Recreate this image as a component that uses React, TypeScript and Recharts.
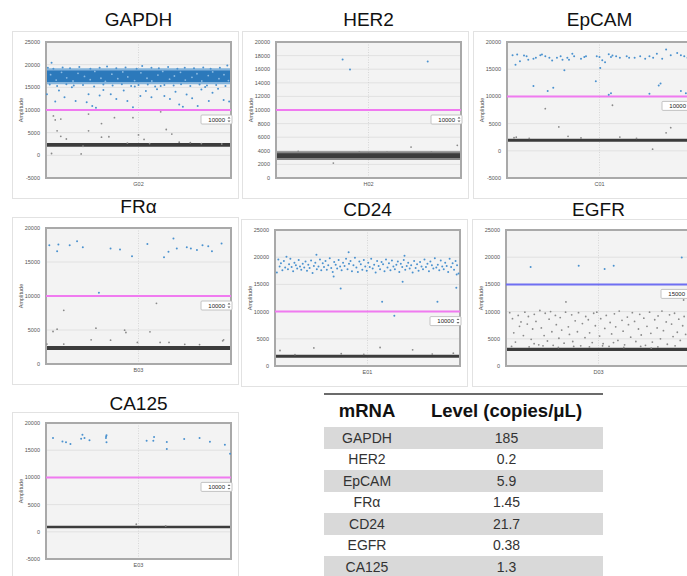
import React from 'react';
import { ScatterChart, Scatter, XAxis, YAxis, CartesianGrid, ReferenceLine, ReferenceArea } from 'recharts';

type Pt = [number, number];

// ---------- tick labels ----------
const ticksM5to25 = [-5000, 0, 5000, 10000, 15000, 20000, 25000];
const ticks0to20by2k = [0, 2000, 4000, 6000, 8000, 10000, 12000, 14000, 16000, 18000, 20000];
const ticksM5to20 = [-5000, 0, 5000, 10000, 15000, 20000];
const ticks0to20 = [0, 5000, 10000, 15000, 20000];
const ticks0to25 = [0, 5000, 10000, 15000, 20000, 25000];

// ---------- wells / titles ----------
const titles = ['GAPDH', 'HER2', 'EpCAM', 'FRα', 'CD24', 'EGFR', 'CA125'];
const wells = ['G02', 'H02', 'C01', 'B03', 'E01', 'D03', 'E03'];
const thresholds = [10000, 10000, 10000, 10000, 10000, 15000, 10000];

// ---------- negative droplet clusters (amplitude range) ----------
const negBands: [number, number][] = [
  [1900, 2700], [2950, 3650], [1650, 2200], [2050, 2650], [1500, 2050], [2750, 3350], [650, 1100],
];
const her2NegHalo: [number, number] = [2650, 3950];

// ---------- GAPDH dense positive cluster ----------
const gapdhPosCore: [number, number] = [16200, 18700];
const gapdhPosHalo: [number, number] = [15700, 19200];

// ---------- droplets: [position across well %, amplitude] ----------
const gapdhBlue: Pt[] = [
  [3, 20400], [0.5, 13500], [5, 11900], [7, 14300], [10, 12800], [16, 12000], [22, 11700], [23, 13500], [25, 10900],
  [27, 10500], [29, 13200], [31, 14400], [35, 13500], [38, 12400], [42, 14300], [44, 12000], [47, 10600], [51, 13100],
  [54, 14200], [57, 12800], [60, 14600], [64, 13100], [67, 12400], [70, 14000], [72, 11200], [74, 10700], [76, 13400],
  [79, 12600], [82, 10900], [84, 14500], [88, 12000], [90, 13800], [93, 14700], [96, 12200], [99, 11900], [14, 15000],
  [48, 15200], [62, 15300], [86, 15100],
  [1, 19300], [4, 19100], [9, 19400], [13, 19200], [18, 19500], [24, 19100], [29, 19300], [33, 19600], [38, 19200],
  [43, 19400], [49, 19100], [52, 19700], [57, 19300], [61, 19200], [66, 19500], [71, 19100], [75, 19300], [80, 19200],
  [85, 19400], [89, 19100], [94, 19300], [98, 19800],
  [2, 15600], [6, 15300], [11, 15700], [15, 15400], [20, 15500], [26, 15200], [31, 15600], [36, 15400], [41, 15700],
  [46, 15300], [50, 15500], [55, 15600], [59, 15200], [64, 15500], [69, 15400], [73, 15700], [78, 15300], [83, 15600],
  [87, 15400], [92, 15500], [97, 15300],
];
// lighter specks visible inside the dense GAPDH cluster
const gapdhSpecks: Pt[] = [
  [2.5, 17800], [5.5, 16600], [8.4, 18300], [11.2, 17100], [14.6, 16400], [17.3, 18100], [20.8, 17400], [23.9, 16700],
  [26.4, 18500], [29.7, 17000], [32.1, 16300], [35.6, 17900], [38.8, 16900], [41.5, 18400], [44.2, 17300], [47.9, 16500],
  [51.3, 18200], [54.6, 17000], [57.2, 16400], [60.5, 17700], [63.1, 18500], [66.8, 16800], [69.4, 17500], [72.7, 18300],
  [75.3, 16600], [78.9, 17200], [81.6, 18000], [84.2, 16400], [87.7, 17600], [90.1, 18400], [93.5, 16900], [96.2, 17800],
  [98.6, 16500],
];
const gapdhGray: Pt[] = [
  [4, 8700], [5, 7800], [8, 8000], [6, 5400], [8, 4200], [11, 3600], [19, 300], [3, 400], [23, 5400], [23, 9100],
  [30, 7000], [30, 4000], [34, 4100], [37, 8300], [47, 8300], [50, 4500], [53, 3500], [62, 9600], [65, 5700],
  [68, 4700], [72, 2900], [78, 2800], [84, 2600], [95, 2500], [20, 2000], [56, 2600], [44, 2700],
];

const her2Blue: Pt[] = [[36, 17430], [40, 15950], [82, 17140]];
const her2Gray: Pt[] = [[31, 2200], [73, 4550], [98, 4800], [84, 3850], [12, 3900], [45, 3850], [60, 3800]];

const epcamBlue: Pt[] = [
  [3, 17550], [4.6, 15830], [5.5, 17700], [7, 16450], [9.2, 17500], [10.6, 17370], [11.5, 16750], [14.3, 16900],
  [15.6, 17100], [18, 17550], [18.9, 17700], [20.7, 17360], [22.9, 17100], [24.4, 16600], [27, 17100], [29, 17400],
  [30, 16750], [32.6, 17100], [33.5, 16750], [35.3, 17860], [36.3, 17360], [40, 16940], [41.8, 17240], [42.7, 17360],
  [48.5, 17360], [50, 17240], [51.5, 16630], [53, 16300], [55, 17730], [56.2, 17240], [57, 17500], [59, 17360],
  [61, 17100], [64.7, 17360], [66, 17100], [69, 17100], [72, 17360], [74.7, 16940], [77, 17360], [79, 17100],
  [81, 17860], [83.9, 16940], [86, 18600], [88.5, 17550], [92, 17980], [94, 17550], [95.8, 17360], [97.6, 17100],
  [99, 16750],
  [14.3, 11900], [22, 11000], [25, 11600], [31, 14800], [48, 12770], [50.4, 15200], [55, 10300], [56.2, 10600],
  [77, 10500], [82, 12000], [83, 12350], [94, 11000], [96.7, 10600],
];
const epcamGray: Pt[] = [
  [20.7, 7750], [28, 4380], [33, 2660], [57, 8370], [61, 2530], [78.7, 300], [86, 3300], [88.5, 4250], [3.8, 2400],
  [5, 2500], [12, 2300], [40, 2350], [70, 2300],
];

const fraBlue: Pt[] = [
  [1.8, 17460], [6, 16590], [6.7, 17560], [12.8, 17460], [16.8, 18050], [19.9, 17170], [34.9, 16980], [40, 16830],
  [46.5, 15850], [54.8, 17660], [63.8, 15710], [66.2, 16490], [68.9, 18440], [70.7, 16980], [76.1, 17170],
  [78.3, 16980], [81.6, 16780], [84.6, 17460], [87.7, 17320], [89.7, 16590], [94.9, 17710], [28.6, 10490],
];
const fraGray: Pt[] = [
  [9.6, 7900], [3.8, 4780], [6, 5120], [27, 5270], [24.4, 3560], [34.9, 3510], [42.5, 4970], [43.2, 4630],
  [49.4, 3170], [56.2, 4730], [59.7, 8930], [61.7, 3170], [66.5, 3170], [95.5, 3410], [96, 3560], [9.6, 2930],
  [0.5, 2930], [75, 2900], [83, 2850],
];

const cd24Blue: Pt[] = [
  [1, 17200], [1.8, 19600], [2.5, 18300], [3.2, 18900], [4, 17600], [4.8, 19300], [5.5, 18100], [6.2, 20100],
  [7, 17800], [7.6, 18700], [8.3, 19700], [9, 18200], [9.8, 17400], [10.5, 19000], [11.3, 18500], [12, 17900],
  [12.8, 19500], [13.5, 18300], [14.2, 17700], [15, 18800], [15.8, 18100], [16.5, 19200], [17.3, 17500], [18, 18600],
  [18.7, 18000], [19.5, 19400], [20.3, 17100], [21, 18400], [21.8, 19000], [22.6, 17800], [23.5, 18300], [24.3, 19600],
  [25, 17600], [25.8, 18900], [26.5, 18200], [27.3, 19300], [28, 17700], [28.8, 18500], [29.6, 19800], [30.4, 18000],
  [31.2, 17300], [32, 19100], [32.8, 18600], [33.6, 17900], [34.4, 19500], [35.2, 18300], [36, 17600], [36.8, 19000],
  [37.6, 18400], [38.4, 19700], [39.2, 17800], [40, 18800], [40.8, 19300], [41.6, 17400], [42.4, 18500], [43.2, 19900],
  [44, 18100], [44.8, 17300], [45.6, 19200], [46.4, 18700], [47.2, 17700], [48, 19500], [48.8, 18300], [49.6, 17500],
  [50.4, 19000], [51.2, 18200], [52, 19700], [52.8, 17900], [53.6, 18600], [54.4, 17200], [55.2, 19300], [56, 18400],
  [56.8, 17800], [57.6, 19100], [58.4, 18700], [59.2, 17400], [60, 19600], [60.8, 18100], [61.6, 18900], [62.4, 17600],
  [63.2, 19400], [64, 18300], [64.8, 17800], [65.6, 18600], [66.4, 19200], [67.2, 17300], [68, 18800], [68.8, 18200],
  [69.6, 19500], [70.4, 17700], [71.2, 18400], [72, 19000], [72.8, 17900], [73.6, 18500], [74.4, 17200], [75.2, 19300],
  [76, 18000], [76.8, 18700], [77.6, 17500], [78.4, 19100], [79.2, 18300], [80, 17800], [80.8, 19600], [81.6, 18200],
  [82.4, 18800], [83.2, 17400], [84, 19200], [84.8, 18500], [85.6, 17900], [86.4, 19800], [87.2, 18100], [88, 18600],
  [88.8, 17600], [89.6, 19400], [90.4, 18300], [91.2, 17800], [92, 19000], [92.8, 18400], [93.6, 17300], [94.4, 19700],
  [95.2, 18200], [96, 18900], [96.8, 17700], [97.6, 19300], [98.4, 18500], [99.2, 17000],
  [22.4, 20450], [39.8, 20930], [70, 20270], [31.7, 16440], [69, 15470], [35.5, 14260], [57.9, 11830], [87.8, 11830],
  [64.5, 9220], [98, 14380], [98.2, 16800],
];
const cd24Gray: Pt[] = [[2.7, 2850], [21, 3330], [56.8, 3400], [74.4, 2970], [96.4, 2360], [10.8, 2100], [35.8, 2250], [48, 2150], [85, 2200]];

const egfrBlue: Pt[] = [[13.3, 18200], [39.3, 18450], [53.3, 17840], [58.2, 18450], [95, 19960]];
const egfrGray: Pt[] = [
  [32.4, 11770], [96, 12130],
  [2, 9800], [3.5, 8700], [4.2, 6100], [5.1, 4400], [6.6, 9300], [7.3, 7300], [8.1, 8100], [9.4, 5600], [10.2, 9900],
  [11.5, 7700], [12.1, 9100], [13.6, 4900], [14.4, 6800], [15.3, 9500], [16.2, 8200], [17.7, 3900], [18.3, 10200],
  [19.1, 7000], [20.6, 5600], [21.2, 9700], [22.4, 4600], [23.3, 8600], [24.1, 10000], [24.8, 6300], [25.5, 3800],
  [26.7, 9300], [27.2, 7600], [28.6, 5100], [29.3, 8900], [30.1, 6600], [31.4, 4200], [32.2, 9900], [33.7, 7200],
  [34.3, 5800], [35.5, 9400], [36.1, 4500], [37.4, 8300], [38.6, 6300], [39.2, 9800], [40.4, 3700], [41.3, 7800],
  [42.7, 5200], [43.1, 9100], [44.5, 8500], [45.2, 6100], [46.6, 4300], [47.4, 9700], [48.3, 7400], [49.1, 9900],
  [50.6, 5500], [51.2, 8700], [52.5, 4100], [53.4, 6900], [54.2, 9300], [55.7, 3600], [56.3, 8000], [57.1, 5900],
  [58.6, 9600], [59.3, 7200], [60.5, 4700], [61.2, 10100], [62.7, 8400], [63.3, 6400], [64.1, 3900], [65.6, 9000],
  [66.2, 7600], [67.4, 5300], [68.3, 9800], [69.5, 8200], [70.2, 4500], [71.6, 6800], [72.3, 9500], [73.1, 5700],
  [74.5, 8800], [75.4, 3800], [76.2, 7300], [77.6, 9900], [78.3, 6000], [79.1, 4400], [80.4, 8500], [81.7, 7000],
  [82.2, 9200], [83.5, 5000], [84.3, 10100], [85.1, 6500], [86.6, 8100], [87.2, 4000], [88.4, 9400], [89.5, 7700],
  [90.3, 5400], [91.1, 9700], [92.6, 6200], [93.4, 8600], [94.2, 4700], [95.5, 7400], [96.3, 9100], [97.1, 5800],
  [98.5, 8300], [99.2, 4200],
  [3, 3600], [12.5, 3500], [20, 3700], [28.3, 3400], [36.6, 3600], [45.1, 3500], [52.2, 3700], [63.7, 3400],
  [72.8, 3600], [82.1, 3500], [91.4, 3700], [15.2, 4100], [58.1, 4300], [78.5, 3300],
];

const ca125Blue: Pt[] = [
  [3.8, 17240], [8.9, 16620], [10.8, 16440], [13.2, 16130], [19, 17110], [19.7, 17850], [20.8, 17240], [23.5, 16810],
  [32.5, 17540], [32.7, 17730], [32.4, 17240], [32.7, 16440], [54.4, 16740], [58, 16740], [58.4, 17420], [65.3, 16500],
  [65.3, 15210], [74.7, 17050], [83, 17240], [88.6, 16560], [96.7, 16010], [99.5, 14350],
];
const ca125Gray: Pt[] = [[48.8, 1390], [64.7, 1080]];

// ---------- table ----------
const tableGenes = ['GAPDH', 'HER2', 'EpCAM', 'FRα', 'CD24', 'EGFR', 'CA125'];
const tableLevels = ['185', '0.2', '5.9', '1.45', '21.7', '0.38', '1.3'];

// ---------- layout ----------
const FONT = '"Liberation Sans", Arial, sans-serif';
const W = 225;
const H = 166;
const PLOT_LEFT = 33;
const PLOT_W = 185;

type PanelCfg = {
  idx: number;
  left: number;
  top: number;
  titleY: number;
  ticks: number[];
  blue: Pt[];
  gray: Pt[];
  specks?: Pt[];
  thrColor: string;
  posCore?: [number, number];
  posHalo?: [number, number];
  negHalo?: [number, number];
};

const panels: PanelCfg[] = [
  { idx: 0, left: 13, top: 32, titleY: 20, ticks: ticksM5to25, blue: gapdhBlue, gray: gapdhGray, specks: gapdhSpecks, thrColor: '#f07af0', posCore: gapdhPosCore, posHalo: gapdhPosHalo },
  { idx: 1, left: 243, top: 32, titleY: 20, ticks: ticks0to20by2k, blue: her2Blue, gray: her2Gray, thrColor: '#f07af0', negHalo: her2NegHalo },
  { idx: 2, left: 474, top: 32, titleY: 20, ticks: ticksM5to20, blue: epcamBlue, gray: epcamGray, thrColor: '#f07af0' },
  { idx: 3, left: 13, top: 218, titleY: 207, ticks: ticks0to20, blue: fraBlue, gray: fraGray, thrColor: '#f07af0' },
  { idx: 4, left: 242, top: 220, titleY: 210, ticks: ticks0to25, blue: cd24Blue, gray: cd24Gray, thrColor: '#f07af0' },
  { idx: 5, left: 473, top: 220, titleY: 210, ticks: ticks0to25, blue: egfrBlue, gray: egfrGray, thrColor: '#6f6ff2' },
  { idx: 6, left: 13, top: 413, titleY: 404, ticks: ticksM5to20, blue: ca125Blue, gray: ca125Gray, thrColor: '#f07af0' },
];

const toXY = (pts: Pt[]) => pts.map(([x, y]) => ({ x, y }));

const AmpLabel = (props: any) => {
  const vb = props.viewBox || { x: 0, y: 0, width: 0, height: 0 };
  const cx = vb.x + 8;
  const cy = vb.y + vb.height / 2;
  return (
    <text x={cx} y={cy} transform={`rotate(-90 ${cx} ${cy})`} textAnchor="middle" dominantBaseline="central" fontSize={5.5} fill="#555" fontFamily={FONT}>
      Amplitude
    </text>
  );
};

const Spinner = (props: any) => {
  const vb = props.viewBox || { x: 0, y: 0, width: 0 };
  const r = vb.x + vb.width;
  const y = vb.y + 5;
  return (
    <g>
      <rect x={r - 30} y={y} width={31} height={9} fill="#fff" stroke="#b5b5b5" strokeWidth={0.8} rx={1} />
      <text x={r - 6} y={y + 6.6} textAnchor="end" fontSize={6} fill="#222" fontFamily={FONT}>{props.text}</text>
      <path d={`M ${r - 3.5} ${y + 3.5} L ${r - 2} ${y + 1.8} L ${r - 0.5} ${y + 3.5} Z`} fill="#666" />
      <path d={`M ${r - 3.5} ${y + 5.5} L ${r - 2} ${y + 7.2} L ${r - 0.5} ${y + 5.5} Z`} fill="#666" />
    </g>
  );
};

const blueDot = (props: any) => <circle cx={props.cx} cy={props.cy} r={1} fill="#4b92cf" />;
const speckDot = (props: any) => <circle cx={props.cx} cy={props.cy} r={0.9} fill="#8dbbe2" />;
const grayDot = (props: any) => <circle cx={props.cx} cy={props.cy} r={0.9} fill="#8a8a8a" />;

function Panel({ p }: { p: PanelCfg }) {
  const ticks = p.ticks;
  const yMin = ticks[0];
  const yMax = ticks[ticks.length - 1];
  const thr = thresholds[p.idx];
  const band = negBands[p.idx];
  return (
    <>
      <div
        style={{
          position: 'absolute', left: p.left + PLOT_LEFT, width: PLOT_W, top: p.titleY - 11, height: 22,
          lineHeight: '22px', fontSize: 19, fontFamily: FONT, color: '#111', textAlign: 'center',
        }}
      >
        {titles[p.idx]}
      </div>
      <div style={{ position: 'absolute', left: p.left, top: p.top, width: W, height: H, background: '#fff', outline: '1px solid #e2e2e2' }}>
        <ScatterChart width={W} height={H} margin={{ top: 10, right: 7, bottom: 0, left: 0 }}>
          <CartesianGrid vertical={false} stroke="#dcdcdc" strokeWidth={0.8} fill="#f3f3f3" fillOpacity={1} />
          <CartesianGrid horizontal={false} stroke="#cfcfcf" strokeWidth={0.8} strokeDasharray="1 1.5" />
          <XAxis
            type="number" dataKey="x" domain={[0, 100]} ticks={[50]} tickFormatter={() => wells[p.idx]}
            height={20} tickLine={false} axisLine={false} tickSize={3} tickMargin={1}
            tick={{ fontSize: 5.5, fill: '#555', fontFamily: FONT }}
          />
          <YAxis
            type="number" dataKey="y" domain={[yMin, yMax]} ticks={ticks} allowDataOverflow interval={0}
            width={PLOT_LEFT} tickLine={false} axisLine={false} tickSize={4} tickMargin={2}
            tick={{ fontSize: 5.5, fill: '#555', fontFamily: FONT }}
            label={<AmpLabel />}
          />
          {p.posHalo && <ReferenceArea x1={0} x2={100} y1={p.posHalo[0]} y2={p.posHalo[1]} fill="#6aa5d6" fillOpacity={0.8} stroke="none" />}
          {p.posCore && <ReferenceArea x1={0} x2={100} y1={p.posCore[0]} y2={p.posCore[1]} fill="#2c79bb" fillOpacity={1} stroke="none" />}
          {p.negHalo && <ReferenceArea x1={0} x2={100} y1={p.negHalo[0]} y2={p.negHalo[1]} fill="#6a6a6a" fillOpacity={0.8} stroke="none" />}
          <ReferenceArea x1={0} x2={100} y1={band[0]} y2={band[1]} fill="#3c3c3c" fillOpacity={1} stroke="none" />
          <Scatter data={toXY(p.gray)} shape={grayDot} isAnimationActive={false} />
          {p.specks && <Scatter data={toXY(p.specks)} shape={speckDot} isAnimationActive={false} />}
          <Scatter data={toXY(p.blue)} shape={blueDot} isAnimationActive={false} />
          <ReferenceLine y={thr} stroke={p.thrColor} strokeWidth={2} label={<Spinner text={String(thr)} />} />
          <ReferenceArea x1={0} x2={100} y1={yMin} y2={yMax} fill="none" stroke="#a9a9a9" strokeWidth={2} />
        </ScatterChart>
      </div>
    </>
  );
}

function LevelTable() {
  const rowH = 21.5;
  return (
    <div style={{ position: 'absolute', left: 324, top: 393, width: 279, fontFamily: FONT }}>
      <div style={{ height: 2, background: '#6b6b6b' }} />
      <div style={{ display: 'flex', height: 32, alignItems: 'center', fontWeight: 'bold', fontSize: 18.5, color: '#111' }}>
        <div style={{ width: 86, textAlign: 'center' }}>mRNA</div>
        <div style={{ width: 193, textAlign: 'center' }}>Level (copies/μL)</div>
      </div>
      {tableGenes.map((g, i) => (
        <div
          key={g}
          style={{
            display: 'flex', height: rowH, alignItems: 'center', fontSize: 14, color: '#333',
            background: i % 2 === 0 ? '#d9d9d9' : '#fff',
          }}
        >
          <div style={{ width: 86, textAlign: 'center' }}>{g}</div>
          <div style={{ width: 193, textAlign: 'center' }}>{tableLevels[i]}</div>
        </div>
      ))}
    </div>
  );
}

export default function App() {
  return (
    <div style={{ position: 'absolute', left: 0, top: 0, width: 687, height: 576, overflow: 'hidden', background: '#fff' }}>
      {panels.map((p) => (
        <Panel key={p.idx} p={p} />
      ))}
      <LevelTable />
    </div>
  );
}
